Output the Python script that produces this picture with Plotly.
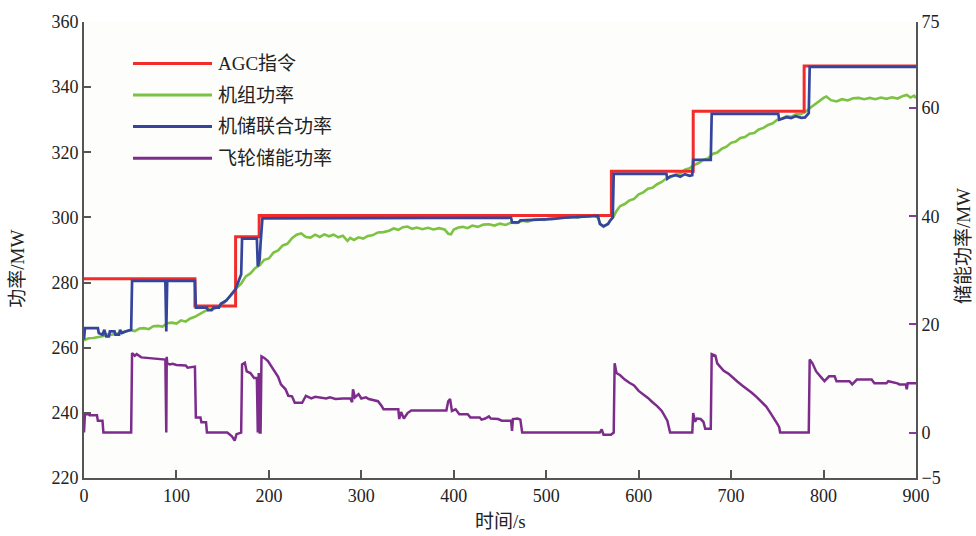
import plotly.graph_objects as go

# ---------------- data ----------------
agc_t = [0, 120, 120, 164, 164, 189.5, 189.5, 570.5, 570.5, 659, 659, 779, 779, 900]
agc_v = [281.2, 281.2, 272.8, 272.8, 294.1, 294.1, 300.6, 300.6, 314.2, 314.2, 332.6, 332.6, 346.5, 346.5]

comb_t = [0, 1, 15, 16, 20, 22, 24, 27, 28, 33, 34, 38, 39, 41, 45, 51, 52, 88, 89, 90, 120, 121,
          133, 134, 138, 140, 146, 148, 154, 160, 164, 168, 170, 171, 187, 188, 190, 191, 193,
          300, 400, 462, 463, 470, 472, 490, 505, 520, 540, 556, 558, 562, 567, 569, 572, 573,
          630, 631, 634, 640, 645, 650, 655, 658, 659, 678, 679, 751, 752, 756, 760, 765, 770,
          776, 780, 784, 785, 900]
comb_v = [262.5, 266, 266, 264.5, 264, 265.5, 263.5, 263.5, 265, 265, 264, 264, 265.5, 264.5, 265, 265.5,
          280.5, 280.5, 265, 280.5, 280.5, 272.3, 272.3, 271.5, 271.5, 272.3, 272.3, 273.5, 274.5,
          276.5, 278, 281, 282.5, 293.5, 293.5, 285, 287, 292, 299.7,
          299.8, 299.9, 299.9, 298.5, 298.5, 299.1, 299.2, 299.5, 299.9, 300.2, 300.5, 298, 297.3,
          298, 299, 300, 313.4, 313.4, 311.9, 312.6, 313, 312.5, 313.3, 312.8, 313, 317.7, 317.7,
          331.8, 331.8, 330, 330.3, 330.8, 330.5, 331.1, 330.6, 330.7, 332, 346.2, 346.2]

unit_t = [0, 5, 10, 15, 20, 25, 30, 35, 40, 45, 50, 55, 60, 65, 70, 75, 80, 85, 90, 95, 100, 105,
          110, 115, 120, 125, 130, 135, 140, 145, 150, 155, 160, 165, 170, 175, 180, 185, 190, 195,
          200, 205, 210, 215, 220, 225, 230, 235, 240, 245, 250, 255, 260, 265, 270, 275, 280, 285,
          288, 292, 297, 302, 307, 312, 318, 324, 330, 335, 340, 345, 350, 355, 360, 366, 372, 378,
          384, 390, 394, 397, 400, 405, 410, 415, 420, 426, 432, 438, 444, 450, 456, 462, 468, 474,
          480, 486, 492, 498, 504, 510, 516, 522, 528, 534, 540, 546, 552, 556, 559, 562, 566, 570,
          573, 576, 580, 585, 590, 595, 600, 605, 610, 615, 620, 625, 630, 635, 640, 645, 650, 655,
          660, 665, 670, 675, 680, 685, 690, 695, 700, 705, 710, 715, 720, 725, 730, 735, 740, 745,
          750, 755, 760, 765, 770, 775, 780, 785, 790, 795, 800, 803, 808, 814, 820, 826, 832, 838,
          844, 850, 856, 862, 868, 874, 880, 886, 890, 894, 898, 900]
unit_v = [262.3, 262.9, 263.0, 263.2, 263.5, 264.1, 264.0, 264.3, 264.7, 264.9, 265.4, 265.1, 265.9,
          266.0, 265.7, 266.6, 266.7, 266.5, 267.5, 267.7, 267.4, 268.4, 268.0, 269.0, 269.5, 270.3,
          271.2, 271.9, 271.8, 272.6, 273.3, 274.9, 276.4, 278.3, 279.7, 281.9, 282.8, 284.4, 285.3,
          287.0, 287.4, 289.2, 289.9, 291.4, 291.9, 293.6, 294.7, 295.1, 294.0, 293.8, 294.7, 294.0,
          294.8, 294.2, 294.7, 293.9, 294.4, 292.8, 293.7, 293.1, 293.9, 293.5, 294.3, 294.5, 295.4,
          295.5, 295.9, 296.6, 296.2, 297.0, 297.2, 296.5, 296.9, 296.4, 296.8, 296.3, 296.7, 296.3,
          295.0, 294.8, 296.3, 296.9, 297.1, 296.7, 297.5, 297.1, 297.8, 297.9, 297.5, 298.1, 297.7,
          298.4, 298.3, 299.0, 298.7, 299.3, 299.4, 299.2, 299.8, 299.7, 300.0, 299.9, 300.2, 299.9,
          300.5, 300.4, 300.7, 299.8, 297.8, 297.1, 297.9, 299.2, 300.3, 302.0, 303.5, 304.1, 305.2,
          305.7, 307.1, 307.7, 308.8, 309.1, 310.2, 310.9, 312.0, 312.4, 313.2, 313.5, 314.7, 315.1,
          316.1, 316.7, 317.7, 318.1, 319.5, 319.9, 321.1, 321.7, 322.9, 323.3, 324.4, 324.7, 325.7,
          325.9, 327.0, 327.5, 328.4, 328.9, 330.0, 330.3, 331.1, 330.9, 331.7, 331.7, 332.3, 333.5,
          334.6, 335.5, 336.7, 337.1, 336.0, 335.6, 336.3, 335.9, 336.6, 336.7, 336.3, 336.7, 336.3,
          336.8, 336.4, 336.9, 336.5, 337.3, 337.6, 336.8, 337.4, 336.6]

fly_t = [0, 1, 5, 6, 14, 15, 20, 21, 51, 52, 55, 57, 62, 70, 78, 86, 88, 89, 89.5, 90, 93, 96, 100,
         110, 112, 118, 120, 121, 126, 127, 132, 133, 155, 160, 163, 165, 170, 171, 174, 176, 180,
         184, 187, 188, 189, 190, 191, 192, 195, 199, 205, 210, 213, 218, 221, 225, 228, 236, 240,
         246, 250, 256, 262, 266, 272, 280, 288, 290, 291, 293, 297, 300, 305, 308, 312, 318, 322,
         324, 340, 341, 343, 346, 350, 354, 392, 394, 396, 398, 402, 406, 415, 418, 428, 430, 434,
         438, 440, 448, 452, 462, 463, 464, 469, 472, 474, 558, 560, 562, 570, 573, 574, 576, 580,
         585, 590, 595, 600, 605, 610, 615, 620, 625, 628, 631, 634, 658, 659, 661, 663, 667, 670,
         672, 678, 679, 683, 685, 688, 692, 697, 702, 707, 712, 718, 722, 728, 733, 738, 743, 747,
         750, 752, 753, 784, 785, 788, 792, 797, 801, 806, 812, 814, 828, 831, 836, 852, 855, 868,
         870, 880, 882, 889, 890, 891, 900]
fly_v = [0, 3.4, 3.4, 3.2, 3.2, 2.2, 2.2, 0, 0, 14.7, 14.2, 14.5, 13.9, 13.8, 13.6, 13.5, 13.5, 0,
         14.0, 12.8, 12.6, 12.7, 12.5, 12.4, 12.0, 12.2, 12.2, 2.8, 2.8, 1.9, 1.9, 0, 0, -0.7, -1.5,
         -0.3, 0, 12.6, 12.9, 11.3, 11.0, 10.1, 10.1, 0, 11.0, 0, 0, 14.1, 13.8, 13.2, 11.6, 10.3,
         8.9, 8.0, 6.8, 6.7, 5.5, 5.5, 6.8, 6.3, 6.6, 6.4, 6.3, 6.5, 6.2, 6.3, 6.3, 5.6, 8.0, 6.5,
         7.1, 6.3, 6.5, 6.2, 6.0, 5.8, 4.9, 4.3, 4.3, 2.5, 3.8, 2.6, 3.6, 4.1, 4.1, 5.8, 6.2, 4.0,
         4.3, 3.4, 3.4, 2.8, 2.8, 2.4, 2.6, 3.0, 2.6, 2.5, 2.2, 2.2, 0.3, 2.5, 2.6, 2.4, 0, 0, 0.6,
         -0.4, -0.4, 0, 12.8, 11.0, 10.6, 9.8, 9.2, 8.7, 7.7, 7.1, 6.4, 5.6, 4.9, 4.0, 3.0, 2.2, 0,
         0, 3.6, 2.0, 2.6, 2.5, 2.0, 0.7, 0.7, 14.5, 14.2, 12.8, 12.2, 11.4, 10.9, 10.1, 9.4, 8.7,
         8.0, 7.4, 6.5, 5.6, 4.8, 3.5, 2.5, 1.6, 1.0, 0, 0, 13.5, 12.8, 11.3, 10.3, 9.5, 10.4, 10.4,
         9.5, 9.5, 8.9, 9.8, 9.8, 9.1, 9.1, 9.5, 9.1, 8.9, 8.9, 8.0, 9.1, 9.1]

x_ticks = [0, 100, 200, 300, 400, 500, 600, 700, 800, 900]
y_ticks = [220, 240, 260, 280, 300, 320, 340, 360]
y2_range = [-8.4, 75.9]
y2_tickvals = [-8.4, 0, 20, 40, 60, 75.9]
y2_ticktext = ["−5", "0", "20", "40", "60", "75"]

names = ["AGC指令", "机组功率", "机储联合功率", "飞轮储能功率"]
colors = ["#f22b2b", "#7cc243", "#35449c", "#7d2c8c"]

FONT = "Liberation Serif, Times New Roman, Noto Sans CJK SC, serif"

fig = go.Figure()
fig.add_trace(go.Scatter(x=unit_t, y=unit_v, mode="lines", name=names[1],
                         line=dict(color=colors[1], width=2.6)))
fig.add_trace(go.Scatter(x=agc_t, y=agc_v, mode="lines", name=names[0],
                         line=dict(color=colors[0], width=3)))
fig.add_trace(go.Scatter(x=comb_t, y=comb_v, mode="lines", name=names[2],
                         line=dict(color=colors[2], width=2.7)))
fig.add_trace(go.Scatter(x=fly_t, y=fly_v, mode="lines", name=names[3], yaxis="y2",
                         line=dict(color=colors[3], width=2.5)))

# manual legend (long sample lines as in the reference)
W, H = 832.0, 462.0
shapes = []
annotations = []
for i, (nm, c) in enumerate(zip(names, colors)):
    py = 58 + 32 * i
    yp = (478 - py) / H
    shapes.append(dict(type="line", xref="paper", yref="paper",
                       x0=(133 - 84) / W, x1=(212 - 84) / W, y0=yp, y1=yp,
                       line=dict(color=c, width=3)))
    annotations.append(dict(xref="paper", yref="paper", x=(216 - 84) / W, y=yp,
                            text=nm, showarrow=False, xanchor="left", yanchor="middle",
                            font=dict(family=FONT, size=19, color="#222")))

# axis titles
annotations.append(dict(xref="paper", yref="paper", x=(18 - 84) / W, y=(478 - 266) / H,
                        text="功率/MW", textangle=-90, showarrow=False,
                        xanchor="center", yanchor="middle",
                        font=dict(family=FONT, size=19, color="#222")))
annotations.append(dict(xref="paper", yref="paper", x=(963 - 84) / W, y=(478 - 243) / H,
                        text="储能功率/MW", textangle=-90, showarrow=False,
                        xanchor="center", yanchor="middle",
                        font=dict(family=FONT, size=19, color="#222")))
annotations.append(dict(xref="paper", yref="paper", x=(500 - 84) / W, y=(478 - 522) / H,
                        text="时间/s", showarrow=False, xanchor="center", yanchor="middle",
                        font=dict(family=FONT, size=19, color="#222")))

fig.update_layout(
    width=976, height=536,
    margin=dict(l=84, r=60, t=16, b=58),
    paper_bgcolor="white", plot_bgcolor="#fdfdfb",
    showlegend=False,
    font=dict(family=FONT, size=18, color="#222"),
    shapes=shapes, annotations=annotations,
    xaxis=dict(range=[0, 900], tickvals=x_ticks, ticks="inside", ticklen=8, tickwidth=1.5,
               tickcolor="#555", showline=True, linecolor="#555", linewidth=2,
               showgrid=False, zeroline=False, tickfont=dict(size=18)),
    yaxis=dict(range=[220, 360], tickvals=y_ticks, ticks="inside", ticklen=7, tickwidth=1.5,
               tickcolor="#555", showline=True, linecolor="#555", linewidth=2,
               showgrid=False, zeroline=False, tickfont=dict(size=18)),
    yaxis2=dict(range=y2_range, overlaying="y", side="right", anchor="x",
                tickvals=y2_tickvals, ticktext=y2_ticktext, ticks="inside", ticklen=7,
                tickwidth=1.5, tickcolor="#8a3a9a", showline=True, linecolor="#555",
                linewidth=2, showgrid=False, zeroline=False, tickfont=dict(size=18)),
)

fig.write_html("out.html")
